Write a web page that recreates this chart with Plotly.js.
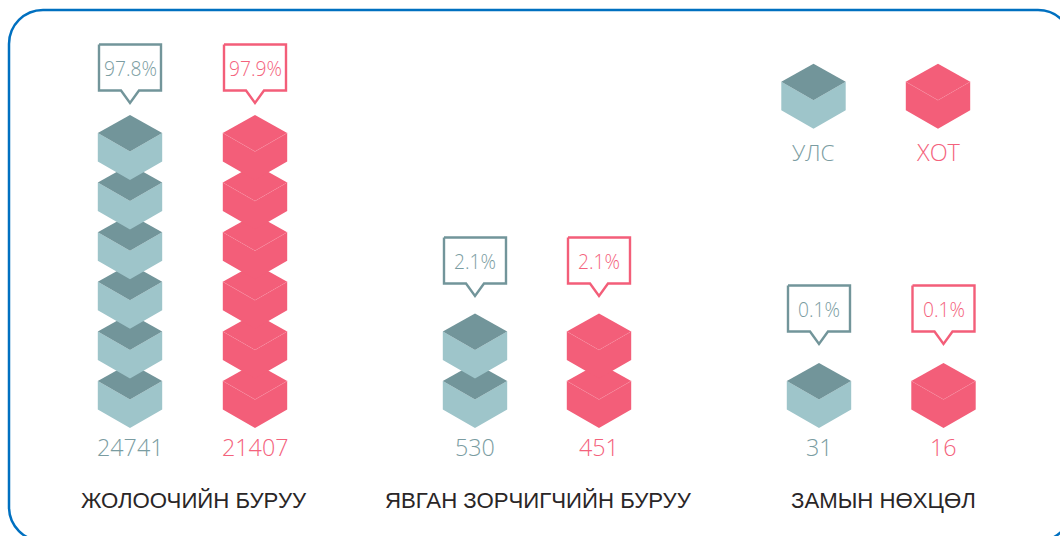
<!DOCTYPE html>
<html><head><meta charset="utf-8">
<script src="https://cdn.plot.ly/plotly-3.0.1.min.js"></script>
<style>html,body{margin:0;padding:0;background:#fff;overflow:hidden}#c{width:1060px;height:536px}</style>
</head><body><div id="c"></div>
<script>
const groups = ['ЖОЛООЧИЙН БУРУУ','ЯВГАН ЗОРЧИГЧИЙН БУРУУ','ЗАМЫН НӨХЦӨЛ'];
const ruralValues = [24741,530,31];
const cityValues = [21407,451,16];
const ruralPct = ['97.8%','2.1%','0.1%'];
const cityPct = ['97.9%','2.1%','0.1%'];
const ruralCubes = [6,2,1];
const cityCubes = [6,2,1];
const legendNames = ['УЛС','ХОТ'];

const ruralX=[130,475,819], cityX=[255,599,943.5], labelX=[193.5,538.5,883], legendX=[813.5,938];
const tipY=[103,296,344];
const BASE=428, STEP=49.6, HW=32.2, H=65;
const DARK='#72959A', LIGHT='#9EC5CA', PINK='#F35E79', PINKLINE='#F98BA0', GREYTXT='#7A9CA1', PINKTXT='#F4627C', BLACK='#2A2627';
const FONT='"Open Sans", "Noto Sans", sans-serif';
const traces=[], ann=[];

function poly(xs,ys,color,lineColor,w){
  traces.push({type:'scatter',mode:'lines',x:xs,y:ys,fill:'toself',fillcolor:color,
    line:{color:lineColor||color,width:w===undefined?0:w},hoverinfo:'skip',showlegend:false});
}
function cube(cx,bottom,side,top,seam){
  const t=bottom-H, u=t+18, c=t+36.5, l=t+46.5;
  poly([cx-HW,cx,cx+HW,cx+HW,cx,cx-HW,cx-HW],[u,c,u,l,bottom,l,u],side);
  poly([cx,cx+HW,cx,cx-HW,cx],[t,u,c,u,t],top);
  if(seam) traces.push({type:'scatter',mode:'lines',x:[cx-HW,cx,cx+HW],y:[u,c,u],
    line:{color:seam,width:0.6,dash:'1px,1px'},hoverinfo:'skip',showlegend:false});
}
function stack(cx,n,side,top,seam){ for(let i=0;i<n;i++) cube(cx,BASE-i*STEP,side,top,seam); }
function callout(cx,tip,color,txtColor,txt){
  const b=tip-12.5, t=b-46;
  poly([cx-31,cx+31,cx+31,cx+9,cx,cx-9,cx-31,cx-31],[t,t,b,b,tip,b,b,t],'#ffffff',color,2.4);
  text(cx,t+23.5,txt,txtColor,19.2);
}
function text(x,y,t,color,size){
  ann.push({xref:'x',yref:'y',x,y,text:t,showarrow:false,xanchor:'center',yanchor:'middle',
    font:{family:FONT,size,color,weight:300}});
}
groups.forEach((g,i)=>{
  stack(ruralX[i],ruralCubes[i],LIGHT,DARK,null);
  stack(cityX[i],cityCubes[i],PINK,PINK,PINKLINE);
  callout(ruralX[i],tipY[i],DARK,GREYTXT,ruralPct[i]);
  callout(cityX[i],tipY[i],PINK,PINKTXT,cityPct[i]);
  text(ruralX[i],447,String(ruralValues[i]),GREYTXT,23.3);
  text(cityX[i],447,String(cityValues[i]),PINKTXT,23.3);
  ann.push({xref:'x',yref:'y',x:labelX[i],y:500,text:g,showarrow:false,xanchor:'center',yanchor:'middle',
    font:{family:'"Liberation Sans", Arimo, sans-serif',size:22.2,color:BLACK}});
});
cube(legendX[0],128.7,LIGHT,DARK,null);
cube(legendX[1],128.7,PINK,PINK,PINKLINE);
text(legendX[0],152,legendNames[0],GREYTXT,22.5);
text(legendX[1],152,legendNames[1],PINKTXT,23.5);

const frame={type:'path',xref:'x',yref:'y',
  path:'M 9 44 C 9 25.2 24.2 10 43 10 L 1038 10 C 1056.8 10 1072 25.2 1072 44 L 1072 507 C 1072 525.8 1056.8 541 1038 541 L 43 541 C 24.2 541 9 525.8 9 507 Z',
  line:{color:'#0070C0',width:2.5},fillcolor:'rgba(0,0,0,0)'};

Plotly.newPlot('c',traces,{
  width:1060,height:536,margin:{l:0,r:0,t:0,b:0},paper_bgcolor:'#fff',plot_bgcolor:'#fff',
  xaxis:{range:[0,1060],visible:false,fixedrange:true},
  yaxis:{range:[536,0],visible:false,fixedrange:true},
  showlegend:false,annotations:ann,shapes:[frame]
},{displayModeBar:false,staticPlot:true});
</script></body></html>
